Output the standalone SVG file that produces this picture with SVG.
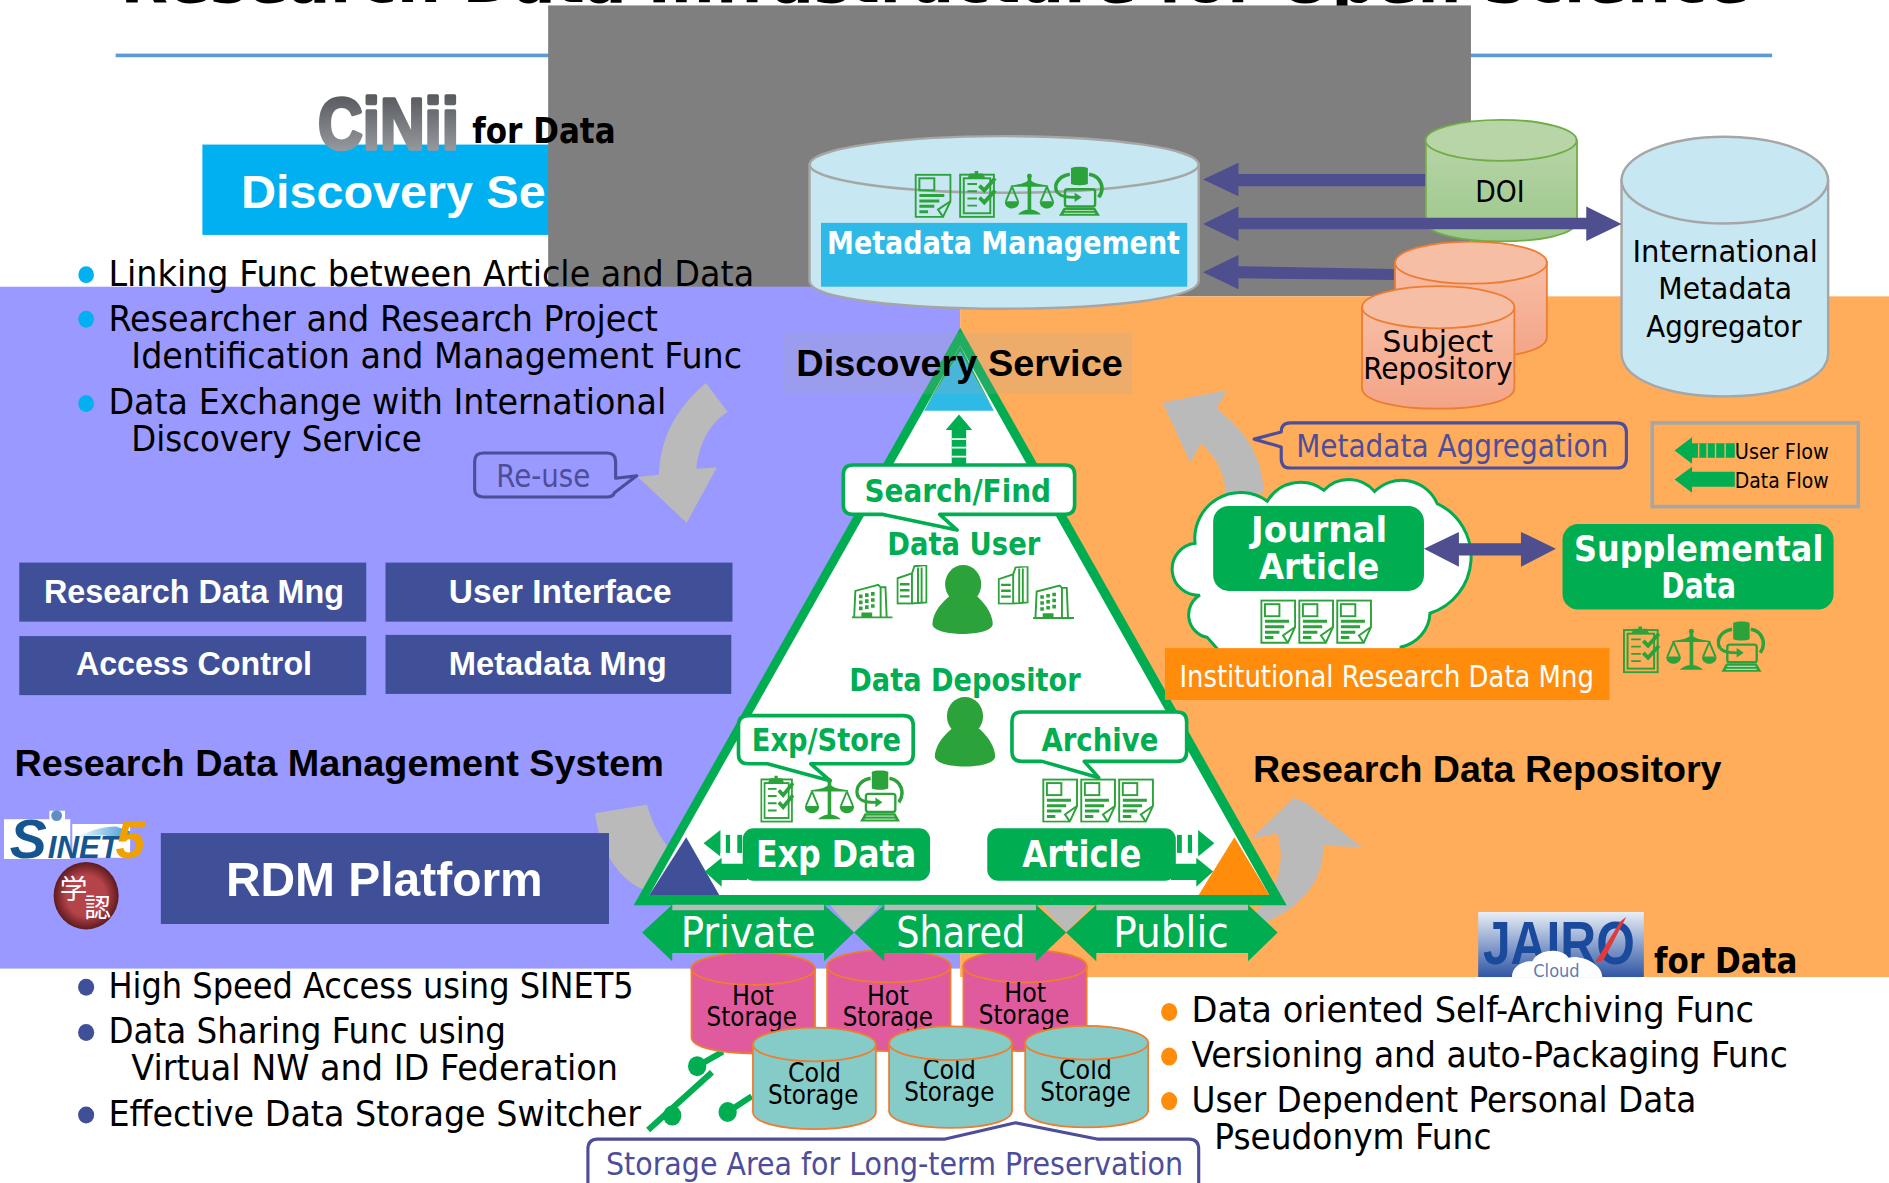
<svg xmlns="http://www.w3.org/2000/svg" xmlns:xlink="http://www.w3.org/1999/xlink" width="1889" height="1183" viewBox="0 0 1889 1183">
<style>
text{font-family:"DejaVu Sans Condensed","DejaVu Sans",sans-serif}
.a{font-family:"Liberation Sans",Arial,sans-serif;font-weight:700}
.b{font-weight:700}
.m{text-anchor:middle}
.k{fill:#000}
.w{fill:#fff}
.g{fill:#00AD50}
.p{fill:#4D4D99}
.body{font-size:30px;fill:#000}
.cyl{font-size:25px;fill:#000;text-anchor:middle}
.st{font-size:22px;fill:#000;text-anchor:middle}
.arr{fill:#4F4F8F}
.grey{fill:#BABABA}
.green{fill:#00AD50}
.box{fill:#3F5099}
.callg{fill:#fff;stroke:#00AD50;stroke-width:3;stroke-linejoin:round}
.callb{fill:none;stroke:#4D4D99;stroke-width:2.6;stroke-linejoin:round}
.ic{fill:none;stroke:#2CA33A;stroke-width:1.6}
.if{fill:#2CA33A}
</style>
<defs>
<linearGradient id="gDoi" x1="0" y1="0" x2="0" y2="1"><stop offset="0" stop-color="#B7D5A7"/><stop offset="1" stop-color="#9CC78A"/></linearGradient>
<linearGradient id="gSub" x1="0" y1="0" x2="0" y2="1"><stop offset="0" stop-color="#F7BEA6"/><stop offset="1" stop-color="#F4A486"/></linearGradient>
<linearGradient id="gCi" x1="0" y1="0" x2="0" y2="1"><stop offset="0" stop-color="#4A4D52"/><stop offset="1" stop-color="#A4A7AC"/></linearGradient>
<linearGradient id="gJa" x1="0" y1="0" x2="0" y2="1"><stop offset="0" stop-color="#E8EEF6"/><stop offset="1" stop-color="#2F55A4"/></linearGradient>
<linearGradient id="gSw" x1="0" y1="0" x2="1" y2="0"><stop offset="0" stop-color="#FFFFFF"/><stop offset="1" stop-color="#3F9AD6"/></linearGradient>
<radialGradient id="gSeal"><stop offset="0.6" stop-color="#B5444A"/><stop offset="1" stop-color="#5E1A1E"/></radialGradient>
<symbol id="doc" viewBox="0 0 30 37" preserveAspectRatio="none">
<path class="ic" d="M1 1H29V23L23 36H1Z"/><path class="ic" d="M29 23L19 30L23 36"/><rect class="ic" x="4" y="4" width="12" height="10"/>
<path class="if" d="M4 17H24V19.500H4ZM4 21.500H20V24H4ZM4 26H16V28.500H4ZM4 30.500H11V33H4Z"/>
</symbol>
<symbol id="clip" viewBox="0 0 33 40" preserveAspectRatio="none">
<rect class="ic" x="1" y="4" width="28" height="35" stroke-width="2"/><rect class="ic" x="4" y="7" width="22" height="29"/>
<path class="if" d="M9 3H20L22 7H7ZM13 1H16V4H13Z"/>
<path class="if" d="M7 11H15V12.500H7ZM7 17H15V18.500H7ZM7 23H15V24.500H7ZM7 29H15V30.500H7Z"/>
<path fill="none" stroke="#2CA33A" stroke-width="3.200" d="M17 13L21 17L30 7M17 23L21 27L30 17"/>
</symbol>
<symbol id="scale" viewBox="0 0 41 36" preserveAspectRatio="none">
<circle class="if" cx="20.500" cy="2" r="2"/><rect class="if" x="19" y="2" width="3" height="30"/>
<path class="if" d="M5 10C13 9 17 8 20.500 5C24 8 28 9 36 10V11H5ZM11 34C14 31 18 30 20.500 30C23 30 27 31 30 34Z"/>
<path class="ic" d="M6 11L1 23M6 11L11 23M35 11L30 23M35 11L40 23"/>
<path class="if" d="M0 23H12C12 28 8 29 6 29C4 29 0 28 0 23ZM29 23H41C41 28 37 29 35 29C33 29 29 28 29 23Z"/>
</symbol>
<symbol id="db" viewBox="0 0 42 44" preserveAspectRatio="none">
<path class="if" d="M14 2C14 0 28 0 28 2V15C28 17 14 17 14 15Z"/>
<path fill="none" stroke="#2CA33A" stroke-width="3" d="M13 7C2 9 -1 18 3 23M29 7C40 9 42 20 37 27"/>
<rect x="9" y="20" width="25" height="15" rx="2" fill="none" stroke="#2CA33A" stroke-width="2"/>
<path fill="none" stroke="#2CA33A" stroke-width="2.400" d="M3 23C6 27 12 27 18 27"/><path class="if" d="M17 23L23 27L17 31Z"/>
<path class="if" d="M8 36H34L38 43H4Z"/>
<path fill="#fff" opacity=".6" d="M9 38H33V39H9ZM8 40.500H34V41.500H8Z"/>
</symbol>
<symbol id="bldA" viewBox="0 0 34 29" preserveAspectRatio="none">
<path class="ic" d="M0 28H34M2 28L3 6L22 1L24 3V28M24 3H28L29 28H31"/><path class="if" d="M6 9H9V12H6ZM11 8H14V11H11ZM16 7H19V10H16ZM6 14H9V17H6ZM11 13H14V16H11ZM16 12H19V15H16ZM6 19H9V22H6ZM11 18H14V21H11ZM16 17H19V20H16ZM8 24H17V28H8Z"/>
</symbol>
<symbol id="bldB" viewBox="0 0 26 33" preserveAspectRatio="none">
<path class="ic" d="M1 32V11L13 7V32ZM13 7L15 1L25 0V31L13 32M18 2V31M21 2V31"/><path class="if" d="M3 15H11V17H3ZM3 20H11V22H3ZM3 25H11V27H3Z"/>
</symbol>
</defs>

<g transform="scale(1.20472)">
<g id="background">
<text x="100" y="1.500" class="b k" font-size="46" textLength="1352" lengthAdjust="spacingAndGlyphs">Research Data Infrastructure for Open Science</text>
<rect x="96" y="44.500" width="1375" height="3" fill="#5B9BD5"/>
<rect x="168" y="120" width="300" height="75" fill="#00B0F0"/>
<text x="200" y="173" class="a w" font-size="38" textLength="253" lengthAdjust="spacingAndGlyphs">Discovery Se</text>
<rect x="455" y="4.500" width="766" height="241.500" fill="#7F7F7F"/>
<rect x="0" y="238" width="797" height="566" fill="#9999FF"/>
<rect x="797" y="246" width="771" height="565" fill="#FFAD5B"/>
</g>

<g id="cinii-logo">
<text x="264" y="123.500" font-size="60" class="a" fill="url(#gCi)" stroke="url(#gCi)" stroke-width="3" stroke-linejoin="round" textLength="117" lengthAdjust="spacingAndGlyphs">CiNii</text>
<text x="392" y="119" class="b k" font-size="29" textLength="119" lengthAdjust="spacingAndGlyphs">for Data</text>
</g>

<g id="discovery-bullets">
<ellipse cx="71.500" cy="228" rx="6.500" ry="7" fill="#00B0F0"/>
<ellipse cx="71.500" cy="265" rx="6.500" ry="7" fill="#00B0F0"/>
<ellipse cx="71.500" cy="335" rx="6.500" ry="7" fill="#00B0F0"/>
<text x="90" y="237.500" class="body" textLength="536" lengthAdjust="spacingAndGlyphs">Linking Func between Article and Data</text>
<text x="90" y="274.500" class="body" textLength="456" lengthAdjust="spacingAndGlyphs">Researcher and Research Project</text>
<text x="109" y="305.200" class="body" textLength="507" lengthAdjust="spacingAndGlyphs">Identification and Management Func</text>
<text x="90" y="343.500" class="body" textLength="463" lengthAdjust="spacingAndGlyphs">Data Exchange with International</text>
<text x="109" y="374.200" class="body" textLength="241" lengthAdjust="spacingAndGlyphs">Discovery Service</text>
</g>

<g id="connectors">
<path class="grey" d="M586 318L604 342C588 352 580 370 578 389L595 388L570 434L529.500 396L547 394C548 365 560 340 586 318Z"/>
<path class="grey" d="M494 675L537 668C542 685 548 695 556 705L570 745L533 738C512 728 498 705 494 675Z"/>
<path class="grey" d="M1074 662L1085 667L1130 703L1098 702C1100 725 1085 750 1054 764L1030 770L1048 751C1062 735 1067 710 1060 692L1039 696Z"/>
<path class="grey" d="M965 334L1018.500 324L1010 339C1030 355 1048 375 1049 409L1017 412C1018 395 1010 380 997 368L988 384Z"/>
<g id="storage-switch" stroke="#00AD50" stroke-width="5" fill="#00AD50">
<path d="M538 938L591 890M579 885L600 873M604 923L624 910" fill="none"/>
<ellipse cx="558" cy="926" rx="7.600" ry="8.300" stroke="none"/>
<ellipse cx="578.700" cy="885" rx="7.600" ry="8.300" stroke="none"/>
<ellipse cx="604" cy="923" rx="7.600" ry="8.300" stroke="none"/>
</g>
</g>

<g id="re-use">
<path class="callb" d="M401 376H504Q511 376 511 383V397L528.500 395L510 409Q509 412.500 504 412.500H401Q394 412.500 394 406V383Q394 376 401 376Z"/>
<text x="451" y="404" class="p m" font-size="26" textLength="78" lengthAdjust="spacingAndGlyphs">Re-use</text>
</g>

<g id="rdm-functions">
<rect class="box" x="16" y="467" width="288" height="49"/>
<text x="161" y="500.500" class="a w m" font-size="27" textLength="249" lengthAdjust="spacingAndGlyphs">Research Data Mng</text>
<rect class="box" x="320" y="467" width="288" height="49"/>
<text x="465" y="500.500" class="a w m" font-size="27" textLength="185" lengthAdjust="spacingAndGlyphs">User Interface</text>
<rect class="box" x="16" y="528" width="288" height="49"/>
<text x="161" y="560.500" class="a w m" font-size="27" textLength="196" lengthAdjust="spacingAndGlyphs">Access Control</text>
<rect class="box" x="320" y="527" width="287" height="49"/>
<text x="463" y="560.500" class="a w m" font-size="27" textLength="181" lengthAdjust="spacingAndGlyphs">Metadata Mng</text>
</g>

<text x="12" y="644" class="a k" font-size="31" textLength="539" lengthAdjust="spacingAndGlyphs">Research Data Management System</text>
<text x="1040" y="649" class="a k" font-size="31" textLength="389" lengthAdjust="spacingAndGlyphs">Research Data Repository</text>

<g id="sinet5-logo">
<rect x="3.300" y="680" width="55" height="33" fill="#fff"/><rect x="41" y="673" width="13" height="8" fill="#fff"/><rect x="60" y="684" width="48" height="28" fill="#fff"/>
<circle cx="47" cy="677" r="4.500" fill="#5F8FC0"/>
<path d="M62 697C72 690 84 686 96 686L108 690V695L100 697C90 692 74 692 62 697Z" fill="url(#gSw)"/>
<text x="8" y="712" class="a" font-style="italic" fill="#15568F"><tspan font-size="46">S</tspan><tspan font-size="26" dx="1">INET</tspan><tspan font-size="44" dx="-3" fill="#F0A000">5</tspan></text>
</g>
<g id="gakunin-seal">
<ellipse cx="71.500" cy="743.500" rx="27" ry="28" fill="url(#gSeal)"/>
<text x="61" y="746" font-size="23" fill="#fff" style="font-family:'Noto Sans CJK JP',sans-serif" text-anchor="middle">学</text>
<text x="81" y="761" font-size="22" fill="#fff" style="font-family:'Noto Sans CJK JP',sans-serif" text-anchor="middle">認</text>
</g>
<g id="rdm-platform">
<rect class="box" x="133.500" y="691.500" width="372" height="75.500"/>
<text x="319" y="743.500" class="a w m" font-size="40" textLength="263" lengthAdjust="spacingAndGlyphs">RDM Platform</text>
</g>

<g id="rdm-bullets">
<ellipse cx="71.500" cy="819.500" rx="6.700" ry="7" fill="#3F5099"/>
<ellipse cx="71.500" cy="857" rx="6.700" ry="7" fill="#3F5099"/>
<ellipse cx="71.500" cy="925.500" rx="6.700" ry="7" fill="#3F5099"/>
<text x="90" y="828.300" class="body" textLength="436" lengthAdjust="spacingAndGlyphs">High Speed Access using SINET5</text>
<text x="90" y="865.500" class="body" textLength="330" lengthAdjust="spacingAndGlyphs">Data Sharing Func using</text>
<text x="109" y="896.500" class="body" textLength="404" lengthAdjust="spacingAndGlyphs">Virtual NW and ID Federation</text>
<text x="90" y="934.500" class="body" textLength="442" lengthAdjust="spacingAndGlyphs">Effective Data Storage Switcher</text>
</g>

<g id="hot-storage-1">
<path d="M574 804V861C574 879 676.500 879 676.500 861V804Z" fill="#E05A9E" stroke="#ED7D31" stroke-width="1.500"/>
<ellipse cx="625.200" cy="804" rx="51.300" ry="13.500" fill="#E05A9E" stroke="#ED7D31" stroke-width="1.500"/>
<text x="625" y="834" class="st">Hot</text><text x="624" y="852" class="st" textLength="75" lengthAdjust="spacingAndGlyphs">Storage</text>
</g>
<g id="hot-storage-2">
<path d="M686.600 802V859C686.600 877 789 877 789 859V802Z" fill="#E05A9E" stroke="#ED7D31" stroke-width="1.500"/>
<ellipse cx="737.800" cy="802" rx="51.200" ry="13.500" fill="#E05A9E" stroke="#ED7D31" stroke-width="1.500"/>
<text x="737" y="834" class="st">Hot</text><text x="737" y="852" class="st" textLength="75" lengthAdjust="spacingAndGlyphs">Storage</text>
</g>
<g id="hot-storage-3">
<path d="M799.700 802V859C799.700 877 902 877 902 859V802Z" fill="#E05A9E" stroke="#ED7D31" stroke-width="1.500"/>
<ellipse cx="850.800" cy="802" rx="51.200" ry="13.500" fill="#E05A9E" stroke="#ED7D31" stroke-width="1.500"/>
<text x="851" y="832" class="st">Hot</text><text x="850" y="850" class="st" textLength="75" lengthAdjust="spacingAndGlyphs">Storage</text>
</g>
<g id="cold-storage-1">
<path d="M625 867V923C625 942 727 942 727 923V867Z" fill="#85CCC8" stroke="#ED7D31" stroke-width="1.500"/>
<ellipse cx="676" cy="867" rx="51" ry="14" fill="#85CCC8" stroke="#ED7D31" stroke-width="1.500"/>
<text x="676" y="898" class="st">Cold</text><text x="675" y="916" class="st" textLength="75" lengthAdjust="spacingAndGlyphs">Storage</text>
</g>
<g id="cold-storage-2">
<path d="M738 866V922C738 941 840 941 840 922V866Z" fill="#85CCC8" stroke="#ED7D31" stroke-width="1.500"/>
<text x="788" y="896" class="st">Cold</text>
<ellipse cx="789" cy="866" rx="51" ry="14" fill="#85CCC8" stroke="#ED7D31" stroke-width="1.500"/>
<text x="788" y="914" class="st" textLength="75" lengthAdjust="spacingAndGlyphs">Storage</text>
</g>
<g id="cold-storage-3">
<path d="M851 865.500V921.500C851 940.500 953 940.500 953 921.500V865.500Z" fill="#85CCC8" stroke="#ED7D31" stroke-width="1.500"/>
<text x="901" y="896" class="st">Cold</text>
<ellipse cx="902" cy="865.500" rx="51" ry="14" fill="#85CCC8" stroke="#ED7D31" stroke-width="1.500"/>
<text x="901" y="914" class="st" textLength="75" lengthAdjust="spacingAndGlyphs">Storage</text>
</g>

<g id="storage-callout">
<path class="callb" d="M488 990V954Q488 945.500 496 945.500H784.600L843 932L910.600 945.500H987Q995 945.500 995 954V990"/>
<text x="503" y="975" class="p" font-size="26" textLength="479" lengthAdjust="spacingAndGlyphs">Storage Area for Long-term Preservation</text>
</g>

<g id="pyramid">
<polygon points="797,272 526,751.500 1068,751.500" fill="#00AD50"/>
<polygon points="797,287 539,743 1053.600,743" fill="#fff"/>
<polygon points="797,292 767,341 825,341" fill="#2FB9E6"/>
<polygon points="797,287 767,341 797,292 825,341" fill="#00AD50"/>
<polygon points="569.600,695 539,743 597,743" fill="#3F5099"/>
<polygon points="1024.600,695 995,743 1053.600,743" fill="#FF8C0A"/>
</g>

<g id="access-bands">
<rect x="558" y="751" width="126" height="5" fill="#BABABA"/><rect x="734" y="751" width="126" height="5" fill="#BABABA"/><rect x="910" y="751" width="126" height="5" fill="#BABABA"/>
<polygon class="grey" points="689,751.500 730,751.500 709,774"/>
<polygon class="grey" points="865,751.500 906,751.500 885,774"/>
<polygon class="green" points="533,774 558,751 558,755.500 684,755.500 684,751 709,774 684,798 684,791 558,791 558,798"/>
<polygon class="green" points="709,774 734,751 734,755.500 860,755.500 860,751 885,774 860,798 860,791 734,791 734,798"/>
<polygon class="green" points="885,774 910,751 910,755.500 1036,755.500 1036,751 1060.500,774 1036,798 1036,791 910,791 910,798"/>
<text x="621" y="786" class="w m" font-size="35" textLength="112" lengthAdjust="spacingAndGlyphs">Private</text>
<text x="797.500" y="786" class="w m" font-size="35" textLength="107" lengthAdjust="spacingAndGlyphs">Shared</text>
<text x="972" y="786" class="w m" font-size="35" textLength="96" lengthAdjust="spacingAndGlyphs">Public</text>
</g>

<rect id="discovery-band" x="650" y="276" width="290" height="51" fill="#A8A8A8" opacity=".2"/>
<text x="661" y="312" class="a k" font-size="31" textLength="271" lengthAdjust="spacingAndGlyphs">Discovery Service</text>

<g id="user-flow-up">
<polygon class="green" points="796,344 807,357 802,357 802,387 790,387 790,357 785,357"/>
<path d="M790 364.500H802M790 371.500H802M790 379H802" stroke="#fff" stroke-width="1.500"/>
</g>

<g id="search-find">
<path class="callg" d="M708 386H884Q892 386 892 394V419Q892 427 884 427H780L794.500 440L733 427H708Q700 427 700 419V394Q700 386 708 386Z"/>
<text x="795" y="417" class="b g m" font-size="26" textLength="155" lengthAdjust="spacingAndGlyphs">Search/Find</text>
</g>

<g id="data-user">
<text x="800" y="461" class="b g m" font-size="26" textLength="127" lengthAdjust="spacingAndGlyphs">Data User</text>
<ellipse cx="799.500" cy="485" rx="15" ry="16" fill="#2CA33A"/>
<path d="M788 495C778 503 774 512 774 518C774 529 824 529 824 518C824 512 820 503 811 495Z" fill="#2CA33A"/>
<use xlink:href="#bldA" href="#bldA" x="707" y="484.500" width="34" height="29"/>
<use xlink:href="#bldB" href="#bldB" x="744" y="469" width="26" height="33"/>
<use xlink:href="#bldB" href="#bldB" x="828" y="470" width="26" height="32"/>
<use xlink:href="#bldA" href="#bldA" x="857.500" y="485" width="34" height="29"/>
</g>

<g id="data-depositor">
<text x="801" y="573.500" class="b g m" font-size="26" textLength="192" lengthAdjust="spacingAndGlyphs">Data Depositor</text>
<ellipse cx="801" cy="594.500" rx="15" ry="16" fill="#2CA33A"/>
<path d="M790 605C780 613 776 622 776 628C776 639 826 639 826 628C826 622 822 613 813 605Z" fill="#2CA33A"/>
</g>

<g id="exp-store">
<path class="callg" d="M621 594H750Q758 594 758 602V626Q758 634 750 634H673L689 648L637 634H621Q613 634 613 626V602Q613 594 621 594Z"/>
<text x="686" y="623.500" class="b g m" font-size="26" textLength="124" lengthAdjust="spacingAndGlyphs">Exp/Store</text>
<use xlink:href="#clip" href="#clip" x="631" y="643" width="30" height="40"/>
<use xlink:href="#scale" href="#scale" x="668" y="646" width="41" height="36"/>
<use xlink:href="#db" href="#db" x="710" y="639" width="41" height="44"/>
</g>

<g id="archive">
<path class="callg" d="M848 591H977Q985 591 985 599V624Q985 632 977 632H900L912 645.500L865 632H848Q840 632 840 624V599Q840 591 848 591Z"/>
<text x="913" y="623" class="b g m" font-size="26" textLength="97" lengthAdjust="spacingAndGlyphs">Archive</text>
<use xlink:href="#doc" href="#doc" x="865" y="646" width="30" height="37"/>
<use xlink:href="#doc" href="#doc" x="896.500" y="646" width="30" height="37"/>
<use xlink:href="#doc" href="#doc" x="928" y="646" width="30" height="37"/>
</g>

<g id="exp-data">
<polygon class="green" points="584,700 598,689 598,711"/>
<rect class="green" x="602.500" y="693" width="3.500" height="15"/><rect class="green" x="612" y="693" width="4" height="15"/>
<rect x="598" y="708" width="18" height="9" fill="#fff"/>
<polygon class="green" points="585,723.500 599,712 599,717 620,717 620,730.500 599,730.500 599,736"/>
<rect class="green" x="616.500" y="687.500" width="155.500" height="43.500" rx="9"/>
<text x="694" y="720" class="b w m" font-size="31" textLength="133" lengthAdjust="spacingAndGlyphs">Exp Data</text>
</g>
<g id="article">
<polygon class="green" points="1008,700 994.500,689 994.500,711"/>
<rect class="green" x="977" y="693" width="4" height="15"/><rect class="green" x="986" y="693" width="3.500" height="15"/>
<rect x="976" y="708" width="18.500" height="9" fill="#fff"/>
<polygon class="green" points="1007,723.500 993,712 993,717 972,717 972,730.500 993,730.500 993,736"/>
<rect class="green" x="819.500" y="687.500" width="156.500" height="43.500" rx="9"/>
<text x="898" y="720" class="b w m" font-size="31" textLength="99" lengthAdjust="spacingAndGlyphs">Article</text>
</g>

<g id="metadata-management">
<path d="M672 136.500V233C672 264 995 264 995 233V136.500Z" fill="#C7E8F3" stroke="#A6A6A6" stroke-width="2"/>
<ellipse cx="833.500" cy="136.500" rx="161.500" ry="23.500" fill="#C7E8F3" stroke="#A6A6A6" stroke-width="2"/>
<rect x="681.500" y="185" width="304" height="53" fill="#2FB9E6"/>
<text x="833" y="211" class="b w m" font-size="26" textLength="293" lengthAdjust="spacingAndGlyphs">Metadata Management</text>
<use xlink:href="#doc" href="#doc" x="759" y="144" width="31" height="37"/>
<use xlink:href="#clip" href="#clip" x="796" y="141" width="33" height="40"/>
<use xlink:href="#scale" href="#scale" x="834" y="144" width="41" height="36"/>
<use xlink:href="#db" href="#db" x="875" y="138" width="42" height="42"/>
</g>

<g id="subject-repository">
<path d="M1158 217.500V280C1158 303 1284 303 1284 280V217.500Z" fill="url(#gSub)" stroke="#ED7D31" stroke-width="1.500"/>
<ellipse cx="1221" cy="218" rx="63" ry="17.500" fill="#F7BEA6" stroke="#ED7D31" stroke-width="1.500"/>
<path d="M1130.600 255V322C1130.600 345 1257 345 1257 322V255Z" fill="url(#gSub)" stroke="#ED7D31" stroke-width="1.500"/>
<ellipse cx="1193.800" cy="255" rx="63.200" ry="17.500" fill="#F7BEA6" stroke="#ED7D31" stroke-width="1.500"/>
<text x="1193.500" y="292" class="cyl" textLength="92" lengthAdjust="spacingAndGlyphs">Subject</text>
<text x="1193.500" y="315" class="cyl" textLength="124" lengthAdjust="spacingAndGlyphs">Repository</text>
</g>
<g id="doi">
<path d="M1183.500 116.500V183.500C1183.500 206 1309 206 1309 183.500V116.500Z" fill="url(#gDoi)" stroke="#70AD47" stroke-width="1.500"/>
<ellipse cx="1246" cy="116.500" rx="62.700" ry="17" fill="#B7D5A7" stroke="#70AD47" stroke-width="1.500"/>
<text x="1245" y="168" class="cyl" textLength="41" lengthAdjust="spacingAndGlyphs">DOI</text>
</g>
<g id="international-aggregator">
<path d="M1346 149.500V293C1346 341 1517.500 341 1517.500 293V149.500Z" fill="#C7E8F3" stroke="#A6A6A6" stroke-width="2"/>
<ellipse cx="1431.700" cy="149.500" rx="85.700" ry="36" fill="#C7E8F3" stroke="#A6A6A6" stroke-width="2"/>
<text x="1432" y="217.500" class="cyl" font-size="26" textLength="154" lengthAdjust="spacingAndGlyphs">International</text>
<text x="1432" y="248.500" class="cyl" font-size="26" textLength="111" lengthAdjust="spacingAndGlyphs">Metadata</text>
<text x="1431" y="279.500" class="cyl" font-size="26" textLength="129" lengthAdjust="spacingAndGlyphs">Aggregator</text>
</g>

<g id="metadata-flows">
<polygon class="arr" points="998.600,149 1028,135 1028,144.500 1183,144.500 1183,154.500 1028,154.500 1028,163"/>
<polygon class="arr" points="998.600,186 1028,171.500 1028,180.700 1316.700,180.700 1316.700,171.500 1346,186 1316.700,200 1316.700,190.300 1028,190.300 1028,200"/>
<polygon class="arr" points="998.600,226 1028,211.700 1028,221 1157,223.300 1157,232.500 1028,231 1028,240"/>
</g>

<g id="metadata-aggregation">
<path class="callb" d="M1071 351H1342Q1350 351 1350 359V380.500Q1350 388.500 1342 388.500H1071Q1063.500 388.500 1063.500 380.500V371L1041 364.500L1063.500 358.500Q1063.500 351 1071 351Z"/>
<text x="1205.500" y="379" class="p m" font-size="26" textLength="259" lengthAdjust="spacingAndGlyphs">Metadata Aggregation</text>
</g>

<g id="legend">
<rect x="1371.500" y="351" width="171" height="69.500" fill="none" stroke="#A6A6A6" stroke-width="3"/>
<polygon class="green" points="1390,374 1404.500,363 1404.500,368 1440,368 1440,380 1404.500,380 1404.500,385"/>
<path d="M1410 368V380M1417 368V380M1424 368V380M1432 368V380" stroke="#FFAD5B" stroke-width="1.200"/>
<polygon class="green" points="1390,398 1404.500,387.500 1404.500,391.500 1440,391.500 1440,404 1404.500,404 1404.500,409"/>
<text x="1440" y="381" class="k" font-size="17" textLength="78" lengthAdjust="spacingAndGlyphs">User Flow</text>
<text x="1440" y="405" class="k" font-size="17" textLength="78" lengthAdjust="spacingAndGlyphs">Data Flow</text>
</g>

<g id="journal-article">
<path d="M992 451A38 38 0 0 1 1052 416A32 32 0 0 1 1099 407A28 28 0 0 1 1141 408A32 32 0 0 1 1193 418A49 49 0 0 1 1187 509A30 30 0 0 1 1163 537L1160 550L1012 550L1010 538L1002 529A19 19 0 0 1 996 494A21.600 21.600 0 0 1 992 451Z" fill="#fff" stroke="#00AD50" stroke-width="2.500"/>
<rect class="green" x="1007" y="420" width="175" height="70.500" rx="13"/>
<text x="1095" y="450" class="b w m" font-size="30" textLength="113" lengthAdjust="spacingAndGlyphs">Journal</text>
<text x="1095" y="481" class="b w m" font-size="30" textLength="100" lengthAdjust="spacingAndGlyphs">Article</text>
<use xlink:href="#doc" href="#doc" x="1046" y="497.500" width="30" height="37"/>
<use xlink:href="#doc" href="#doc" x="1077.500" y="497.500" width="30" height="37"/>
<use xlink:href="#doc" href="#doc" x="1109" y="497.500" width="30" height="37"/>
</g>
<polygon id="article-data-link" class="arr" points="1182,455.500 1211,441.500 1211,451 1262.500,451 1262.500,441.500 1291.500,455.500 1262.500,470.500 1262.500,461 1211,461 1211,470.500"/>
<g id="supplemental-data">
<rect class="green" x="1297" y="435" width="225" height="71" rx="13"/>
<text x="1410" y="465.500" class="b w m" font-size="30" textLength="207" lengthAdjust="spacingAndGlyphs">Supplemental</text>
<text x="1410" y="496.500" class="b w m" font-size="30" textLength="62" lengthAdjust="spacingAndGlyphs">Data</text>
<use xlink:href="#clip" href="#clip" x="1347" y="519" width="33" height="40"/>
<use xlink:href="#scale" href="#scale" x="1383" y="522" width="42" height="36"/>
<use xlink:href="#db" href="#db" x="1425" y="515.500" width="41" height="43"/>
</g>
<g id="institutional-rdm">
<rect x="967" y="538" width="369" height="43" fill="#FF8C0A"/>
<text x="979" y="570" class="w" font-size="25" textLength="344" lengthAdjust="spacingAndGlyphs">Institutional Research Data Mng</text>
</g>

<g id="jairo-logo">
<rect x="1227" y="757" width="137.500" height="54" fill="url(#gJa)"/>
<text x="1231" y="800" class="a" font-size="50" fill="#1A4A9C" textLength="126" lengthAdjust="spacingAndGlyphs">JAIRO</text>
<path d="M1255 811C1255 800 1268 797 1272 798C1276 788 1296 786 1302 795C1312 792 1330 800 1330 811Z" fill="#fff"/>
<polygon points="1324,799 1345,765 1350,761 1331,797" fill="#E03A3A"/>
<text x="1292" y="811" font-size="15" fill="#5B7DB1" text-anchor="middle">Cloud</text>
<text x="1373" y="808" class="b k" font-size="29" textLength="119" lengthAdjust="spacingAndGlyphs">for Data</text>
</g>

<g id="repository-bullets">
<ellipse cx="970.500" cy="840" rx="6.700" ry="7.500" fill="#FF8C0A"/>
<ellipse cx="970.500" cy="877" rx="6.700" ry="7.500" fill="#FF8C0A"/>
<ellipse cx="970.500" cy="914" rx="6.700" ry="7.500" fill="#FF8C0A"/>
<text x="989" y="848.300" class="body" textLength="467" lengthAdjust="spacingAndGlyphs">Data oriented Self-Archiving Func</text>
<text x="989" y="886" class="body" textLength="495" lengthAdjust="spacingAndGlyphs">Versioning and auto-Packaging Func</text>
<text x="989" y="923" class="body" textLength="419" lengthAdjust="spacingAndGlyphs">User Dependent Personal Data</text>
<text x="1008" y="954" class="body" textLength="230" lengthAdjust="spacingAndGlyphs">Pseudonym Func</text>
</g>
</g>
</svg>
